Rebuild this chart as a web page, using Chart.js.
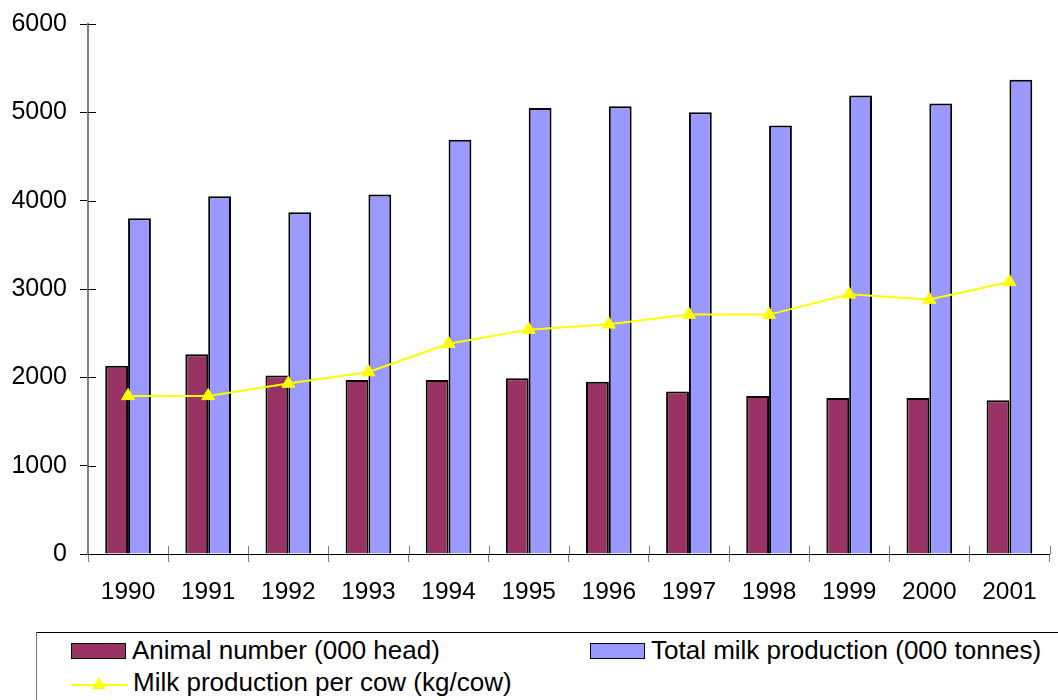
<!DOCTYPE html>
<html>
<head>
<meta charset="utf-8">
<script src="https://cdn.jsdelivr.net/npm/chart.js@4"></script>
<style>
  html, body { margin: 0; padding: 0; background: #fff; overflow: hidden; }
  #wrap { position: relative; width: 1058px; height: 700px; }
  #chartBox { position: absolute; left: 0; top: 0; width: 1058px; height: 625px; }
  #legend {
    position: absolute; left: 36px; top: 632px; width: 1100px; height: 100px;
    border-top: 1.5px solid #000; border-left: 1.5px solid #777;
    font-family: "Liberation Sans", Arial, sans-serif; font-size: 26px; color: #000;
  }
  .item { position: absolute; display: flex; align-items: center; white-space: nowrap; }
  .swatch { width: 55px; height: 16px; border: 1.5px solid #000; margin-right: 6px; box-sizing: border-box; }
  .lineSw { width: 56px; height: 16px; margin-right: 6px; }
</style>
</head>
<body>
<div id="wrap">
  <div id="chartBox"><canvas id="c"></canvas></div>
  <div id="legend"></div>
</div>
<script>
// Dairy sector, 1990-2001
const years = ['1990', '1991', '1992', '1993', '1994', '1995', '1996', '1997', '1998', '1999', '2000', '2001'];
const animalNumber = [2130, 2260, 2020, 1970, 1970, 1990, 1950, 1840, 1790, 1765, 1765, 1740];
const totalMilk = [3800, 4050, 3870, 4070, 4690, 5050, 5070, 5000, 4850, 5190, 5100, 5370];
const milkPerCow = [1790, 1790, 1930, 2060, 2380, 2540, 2600, 2710, 2710, 2940, 2880, 3080];

const seriesLabels = ['Animal number (000 head)', 'Total milk production (000 tonnes)', 'Milk production per cow (kg/cow)'];
const MAROON = '#993366', LAVENDER = '#9999FF', YELLOW = '#FFFF00';
const FONT = '"Liberation Sans", Arial, sans-serif';

// ticks that cross the axis line (outside part is drawn by Chart.js, inside part here)
const crossTicks = {
  id: 'crossTicks',
  afterDraw(chart) {
    const ctx = chart.ctx, x = chart.scales.x, y = chart.scales.y;
    ctx.save();
    ctx.lineWidth = 1;
    ctx.strokeStyle = '#000';
    y.ticks.forEach((t, i) => {
      const py = Math.round(y.getPixelForTick(i)) + 0.5;
      ctx.beginPath(); ctx.moveTo(x.left, py); ctx.lineTo(x.left + 8, py); ctx.stroke();
    });
    ctx.strokeStyle = '#808080';
    for (let i = 0; i <= years.length; i++) {
      const px = Math.round(x.getPixelForValue(i - 0.5)) + 0.5;
      ctx.beginPath(); ctx.moveTo(px, y.bottom); ctx.lineTo(px, y.bottom - 8); ctx.stroke();
    }
    ctx.restore();
  }
};

const chart = new Chart(document.getElementById('c'), {
  data: {
    labels: years,
    datasets: [
      { type: 'bar', label: seriesLabels[0], data: animalNumber, order: 1,
        backgroundColor: MAROON, borderColor: '#000', borderWidth: 2,
        categoryPercentage: 0.57, barPercentage: 1.0 },
      { type: 'bar', label: seriesLabels[1], data: totalMilk, order: 2,
        backgroundColor: LAVENDER, borderColor: '#000', borderWidth: 2,
        categoryPercentage: 0.57, barPercentage: 1.0 },
      { type: 'line', label: seriesLabels[2], data: milkPerCow, order: 0,
        borderColor: YELLOW, borderWidth: 2, backgroundColor: YELLOW,
        pointStyle: 'triangle', pointRadius: 7.5, pointHoverRadius: 7.5,
        pointBackgroundColor: YELLOW, pointBorderColor: YELLOW, pointBorderWidth: 1,
        tension: 0 }
    ]
  },
  options: {
    responsive: true, maintainAspectRatio: false, animation: false,
    layout: { padding: { top: 24, right: 4, left: 0, bottom: 0 } },
    plugins: { legend: { display: false }, tooltip: { enabled: false } },
    scales: {
      x: {
        offset: true,
        grid: { display: true, offset: true, drawOnChartArea: false, tickLength: 8, color: '#808080' },
        border: { display: true, color: '#000', width: 1 },
        ticks: { color: '#000', font: { family: FONT, size: 24.5 }, padding: 16, maxRotation: 0, autoSkip: false },
        afterFit(s) { s.height = 625 - 554; }
      },
      y: {
        min: 0, max: 6000,
        grid: { display: true, drawOnChartArea: false, tickLength: 8, color: '#000' },
        border: { display: true, color: '#808080', width: 2 },
        ticks: { stepSize: 1000, color: '#000', font: { family: FONT, size: 25 }, padding: 13,
                 callback: v => String(v) },
        afterFit(s) { s.width = 88; s.paddingTop = 0; s.paddingBottom = 0; }
      }
    }
  },
  plugins: [crossTicks]
});

// legend built from the chart's datasets
const legend = document.getElementById('legend');
const spots = [
  { ds: 0, left: 34, top: 2 },
  { ds: 1, left: 553, top: 2 },
  { ds: 2, left: 34, top: 34 }
];
spots.forEach(s => {
  const d = chart.data.datasets[s.ds];
  const el = document.createElement('div');
  el.className = 'item';
  el.style.left = s.left + 'px';
  el.style.top = s.top + 'px';
  if (d.type === 'bar') {
    el.innerHTML = '<div class="swatch" style="background:' + d.backgroundColor + '"></div>';
  } else {
    el.innerHTML = '<svg class="lineSw" viewBox="0 0 56 16"><line x1="0" y1="10" x2="56" y2="10" stroke="' + d.borderColor +
      '" stroke-width="2"/><polygon points="28,2 35,14 21,14" fill="' + d.borderColor + '"/></svg>';
  }
  const t = document.createElement('span');
  t.textContent = d.label;
  el.appendChild(t);
  legend.appendChild(el);
});
</script>
</body>
</html>
